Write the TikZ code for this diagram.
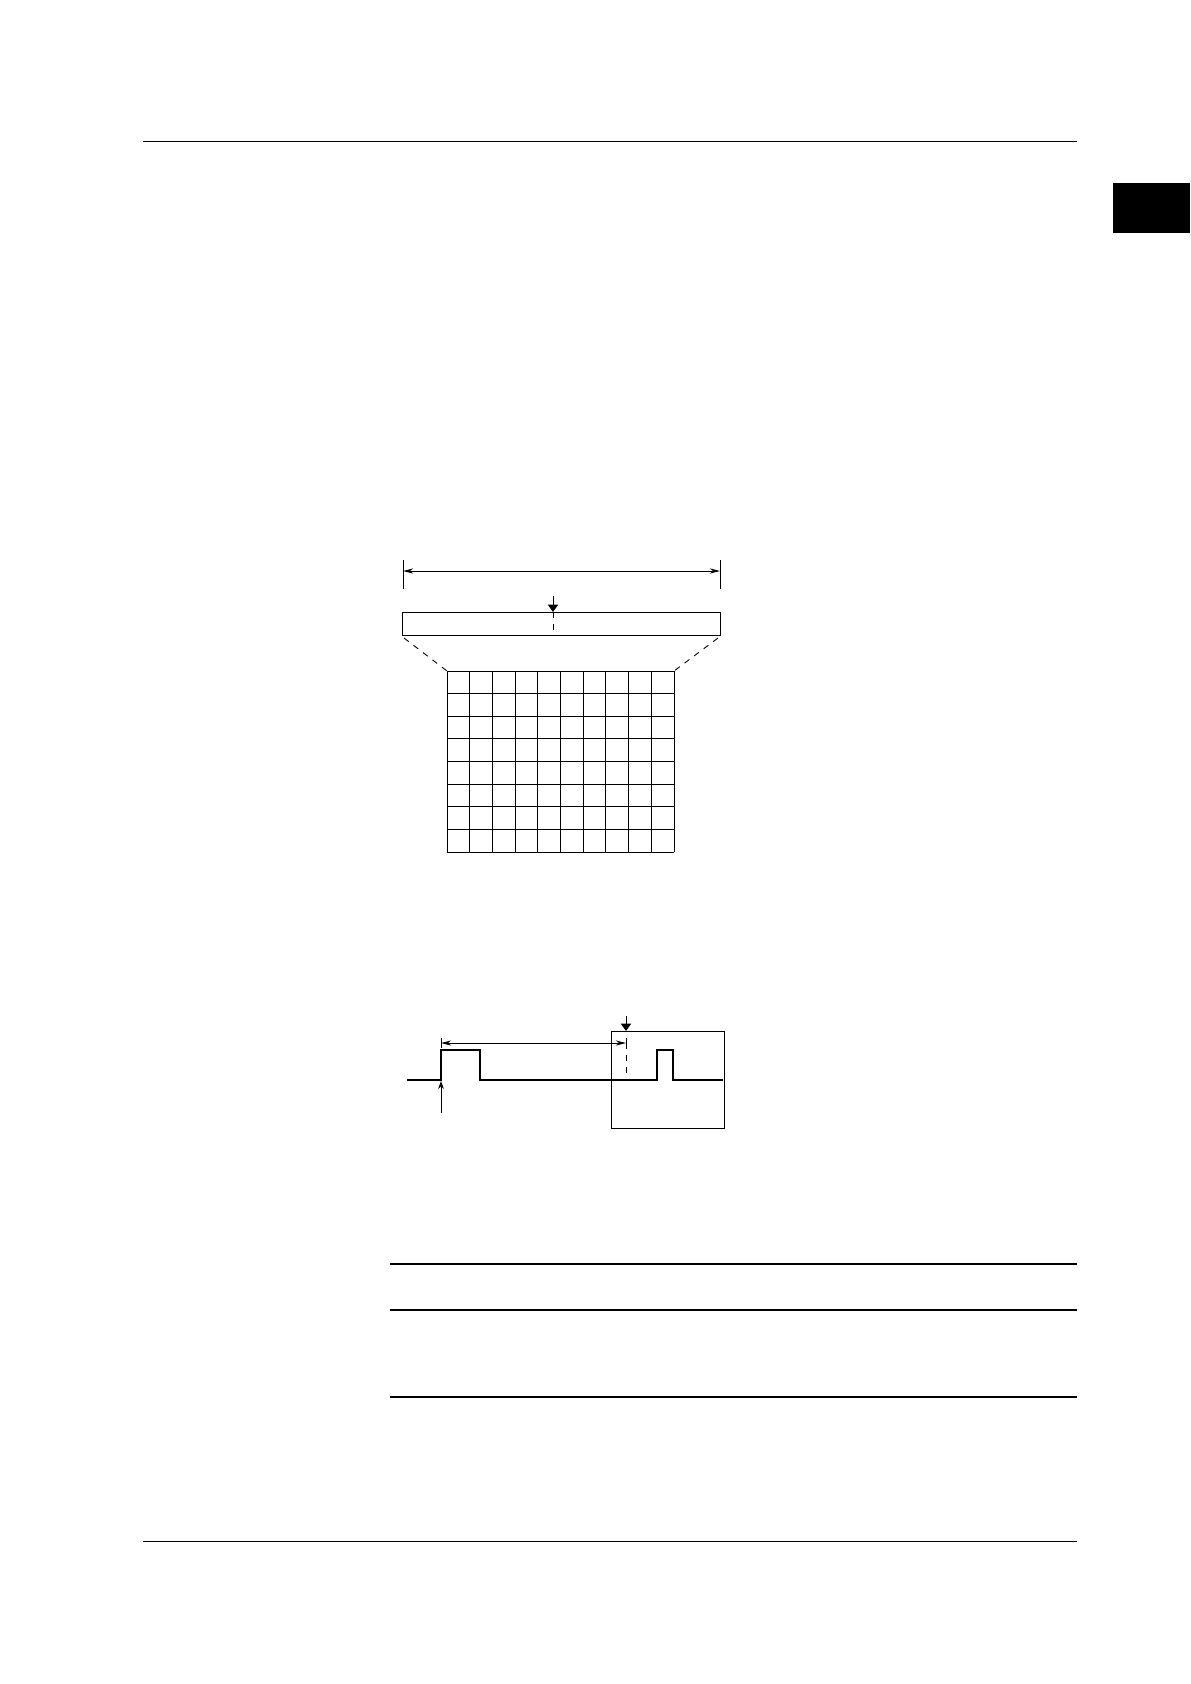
\documentclass[tikz,border=0pt]{standalone}
\usepackage{tikz}
\usetikzlibrary{calc, arrows.meta}

\begin{document}
\begin{tikzpicture}[x = 0.17647mm, y = -0.17647mm, line width = 0.45pt,
		dimtip/.style = {{Stealth[length=1.8mm, width=0.9mm]}-{Stealth[length=1.8mm, width=0.9mm]}},
		marktip/.style = {-{Triangle[length=1.3mm, width=1.8mm]}},
		uptip/.style = {-{Stealth[length=1.4mm, width=1mm]}}]
		\def\cellW{22.7};
		\def\cellH{22.625};
		\useasboundingbox (0,0) rectangle (1190,1684);

		% page rules and tab
		\draw (143,141) -- (1077,141);
		\draw (143,1541) -- (1077,1541);
		\fill (1113,183) rectangle (1190,233);
		\draw[line width = 0.6pt] (390,1264) -- (1077,1264);
		\draw[line width = 0.6pt] (390,1310) -- (1077,1310);
		\draw[line width = 0.6pt] (390,1397) -- (1077,1397);

		% record length and display bar
		\coordinate (lenL) at (403,571);
		\coordinate (lenR) at (720,571);
		\draw (403,560) -- (403,589);
		\draw (720,560) -- (720,589);
		\draw[dimtip] (lenL) -- (lenR);

		\draw (402,612) rectangle (720,635);
		\coordinate (trig) at (553,612);
		\draw[marktip] (553,596) -- (trig);
		\draw[dashed] (trig) -- (553,635);

		% zoomed grid
		\draw[dashed] (404,638) -- (447,671);
		\draw[dashed] (718,638) -- (674,671);
		\foreach \i in {0,...,10}
			\draw ({447+\i*\cellW},671) -- ({447+\i*\cellW},852);
		\foreach \j in {0,...,8}
			\draw (447,{671+\j*\cellH}) -- (674,{671+\j*\cellH});

		% trigger delay
		\draw (611,1031) rectangle (724,1128);
		\draw[line width = 1pt] (407,1080) -- (441,1080) -- (441,1050) -- (480,1050) -- (480,1080)
			-- (657,1080) -- (657,1050) -- (673,1050) -- (673,1080) -- (723,1080);

		\coordinate (delL) at (441,1043);
		\coordinate (delR) at (626,1043);
		\draw (441,1038) -- (441,1048);
		\draw (626,1038) -- (626,1048);
		\draw[dimtip] (delL) -- (delR);
		\draw[dashed] (delR) -- (626,1075);
		\draw[marktip] (626,1016) -- (626,1031);
		\draw[uptip] (441,1113) -- (441,1081);
	\end{tikzpicture}
\end{document}
